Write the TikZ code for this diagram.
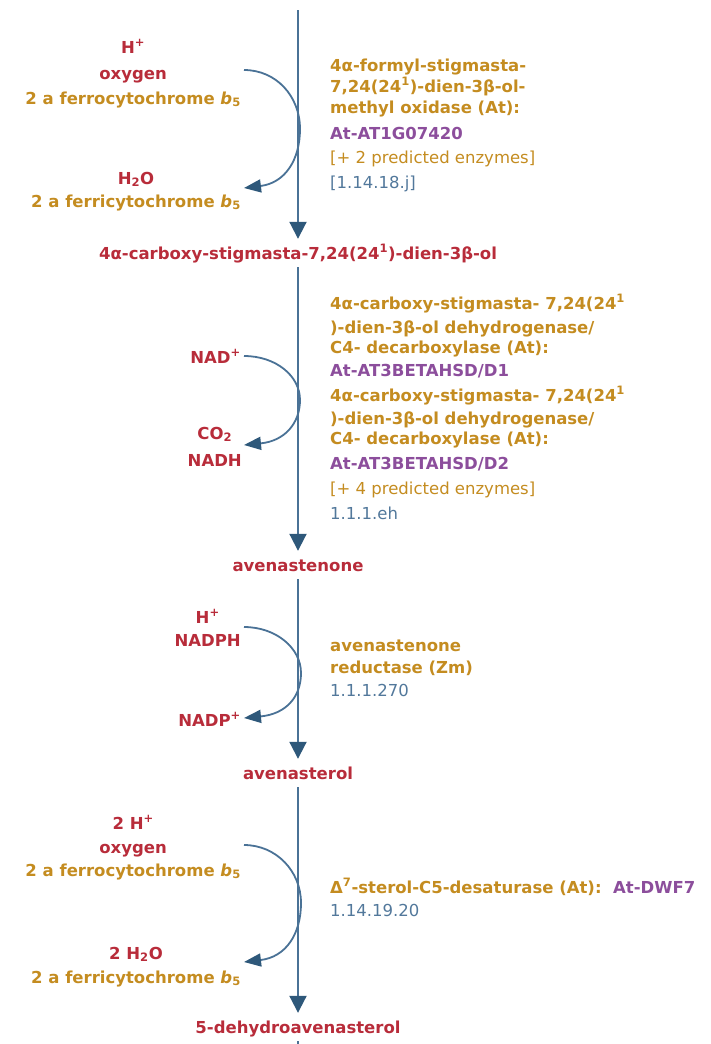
\documentclass[tikz,border=0pt]{standalone}
\usepackage{fontspec}
\setmainfont{DejaVu Sans}
\usetikzlibrary{arrows.meta}
\definecolor{cpd}{RGB}{184,44,58}
\definecolor{enz}{RGB}{196,140,32}
\definecolor{gene}{RGB}{140,78,156}
\definecolor{ec}{RGB}{82,120,155}
\definecolor{rxn}{RGB}{74,114,150}
\definecolor{head}{RGB}{46,88,122}
\begin{document}
\begin{tikzpicture}[x=1pt,y=-1pt,
  every node/.style={inner sep=0pt},
  txt/.style={font=\fontsize{16.5}{20}\selectfont},
  btxt/.style={font=\fontsize{16.5}{20}\selectfont\bfseries},
  compound/.style={btxt, text=cpd, text height=13pt, text depth=1pt, inner ysep=7pt, inner xsep=2pt},
  sidecpd/.style={btxt, text=cpd, anchor=base},
  sideenz/.style={btxt, text=enz, anchor=base},
  enzline/.style={btxt, text=enz, anchor=base west},
  geneline/.style={btxt, text=gene, anchor=base west},
  predline/.style={txt, text=enz, anchor=base west},
  ecline/.style={txt, text=ec, anchor=base west},
  mainrxn/.style={draw=rxn, line width=2pt, -{Triangle[length=17pt,width=17pt,color=head]}},
  sidearc/.style={draw=rxn, line width=1.8pt, -{Triangle[length=17pt,width=13pt,color=head]}},
  stub/.style={draw=rxn, line width=2pt}
]
\useasboundingbox (0,0) rectangle (710,1044);

% ---------- compounds on the main line ----------
\coordinate (top) at (298,10);
\node[compound] (c1) at (298,253) {4α-carboxy-stigmasta-7,24(24\textsuperscript{1})-dien-3β-ol};
\node[compound] (c2) at (298,565) {avenastenone};
\node[compound] (c3) at (298,773) {avenasterol};
\node[compound] (c4) at (298,1027) {5-dehydroavenasterol};
\coordinate (bot) at (298,1044);

\draw[mainrxn] (top) -- (c1);
\draw[mainrxn] (c1) -- (c2);
\draw[mainrxn] (c2) -- (c3);
\draw[mainrxn] (c3) -- (c4);
\draw[stub] (c4) -- (bot);

% ---------- reaction 1 ----------
\node[sideenz, anchor=base east] (g1c) at (241,104) {2 a ferrocytochrome \textit{b}\textsubscript{5}};
\node[sidecpd] (g1b) at (g1c.base |- 0,79) {oxygen};
\node[sidecpd] (g1a) at (g1c.base |- 0,53) {H\textsuperscript{+}};
\node[sideenz, anchor=base east] (g1e) at (241,207) {2 a ferricytochrome \textit{b}\textsubscript{5}};
\node[sidecpd] (g1d) at (g1e.base |- 0,184) {H\textsubscript{2}O};
\coordinate (a1s) at (244,70);
\coordinate (a1e) at (244,188);
\draw[sidearc] (a1s) .. controls (276,70) and (300,96) .. (300,129) .. controls (300,160) and (285,183) .. (a1e);

\node[enzline] (e1a) at (330,71) {4α-formyl-stigmasta-};
\node[enzline] (e1b) at (330,92) {7,24(24\textsuperscript{1})-dien-3β-ol-};
\node[enzline] (e1c) at (330,113) {methyl oxidase (At):};
\node[geneline] (e1d) at (330,139) {At-AT1G07420};
\node[predline] (e1e) at (330,163) {[+ 2 predicted enzymes]};
\node[ecline] (e1f) at (330,188) {[1.14.18.j]};

% ---------- reaction 2 ----------
\node[sidecpd, anchor=base east] (g2a) at (241,363) {NAD\textsuperscript{+}};
\node[sidecpd, anchor=base east] (g2c) at (242,466) {NADH};
\node[sidecpd] (g2b) at (g2c.base |- 0,439) {CO\textsubscript{2}};
\coordinate (a2s) at (244,356);
\coordinate (a2e) at (244,445);
\draw[sidearc] (a2s) .. controls (276,356) and (300,376) .. (300,400) .. controls (300,423) and (285,441) .. (a2e);

\node[enzline] (e2a) at (330,309) {4α-carboxy-stigmasta- 7,24(24\textsuperscript{1}};
\node[enzline] (e2b) at (330,333) {)-dien-3β-ol dehydrogenase/};
\node[enzline] (e2c) at (330,353) {C4- decarboxylase (At):};
\node[geneline] (e2d) at (330,376) {At-AT3BETAHSD/D1};
\node[enzline] (e2e) at (330,401) {4α-carboxy-stigmasta- 7,24(24\textsuperscript{1}};
\node[enzline] (e2f) at (330,424) {)-dien-3β-ol dehydrogenase/};
\node[enzline] (e2g) at (330,444) {C4- decarboxylase (At):};
\node[geneline] (e2h) at (330,469) {At-AT3BETAHSD/D2};
\node[predline] (e2i) at (330,494) {[+ 4 predicted enzymes]};
\node[ecline] (e2j) at (330,519) {1.1.1.eh};

% ---------- reaction 3 ----------
\node[sidecpd, anchor=base east] (g3b) at (241,646) {NADPH};
\node[sidecpd] (g3a) at (g3b.base |- 0,623) {H\textsuperscript{+}};
\node[sidecpd, anchor=base east] (g3c) at (241,726) {NADP\textsuperscript{+}};
\coordinate (a3s) at (244,627);
\coordinate (a3e) at (244,718);
\draw[sidearc] (a3s) .. controls (276,627) and (301,648) .. (301,673) .. controls (301,697) and (286,714) .. (a3e);

\node[enzline] (e3a) at (330,651) {avenastenone};
\node[enzline] (e3b) at (330,673) {reductase (Zm)};
\node[ecline] (e3c) at (330,696) {1.1.1.270};

% ---------- reaction 4 ----------
\node[sideenz, anchor=base east] (g4c) at (241,876) {2 a ferrocytochrome \textit{b}\textsubscript{5}};
\node[sidecpd] (g4b) at (g4c.base |- 0,853) {oxygen};
\node[sidecpd] (g4a) at (g4c.base |- 0,829) {2 H\textsuperscript{+}};
\node[sideenz, anchor=base east] (g4e) at (241,983) {2 a ferricytochrome \textit{b}\textsubscript{5}};
\node[sidecpd] (g4d) at (g4e.base |- 0,959) {2 H\textsubscript{2}O};
\coordinate (a4s) at (244,845);
\coordinate (a4e) at (244,962);
\draw[sidearc] (a4s) .. controls (276,845) and (301,871) .. (301,903) .. controls (301,934) and (286,957) .. (a4e);

\node[enzline] (e4a) at (330,893) {Δ\textsuperscript{7}-sterol-C5-desaturase (At):\ \ \textcolor{gene}{At-DWF7}};
\node[ecline] (e4b) at (330,916) {1.14.19.20};
\end{tikzpicture}
\end{document}
